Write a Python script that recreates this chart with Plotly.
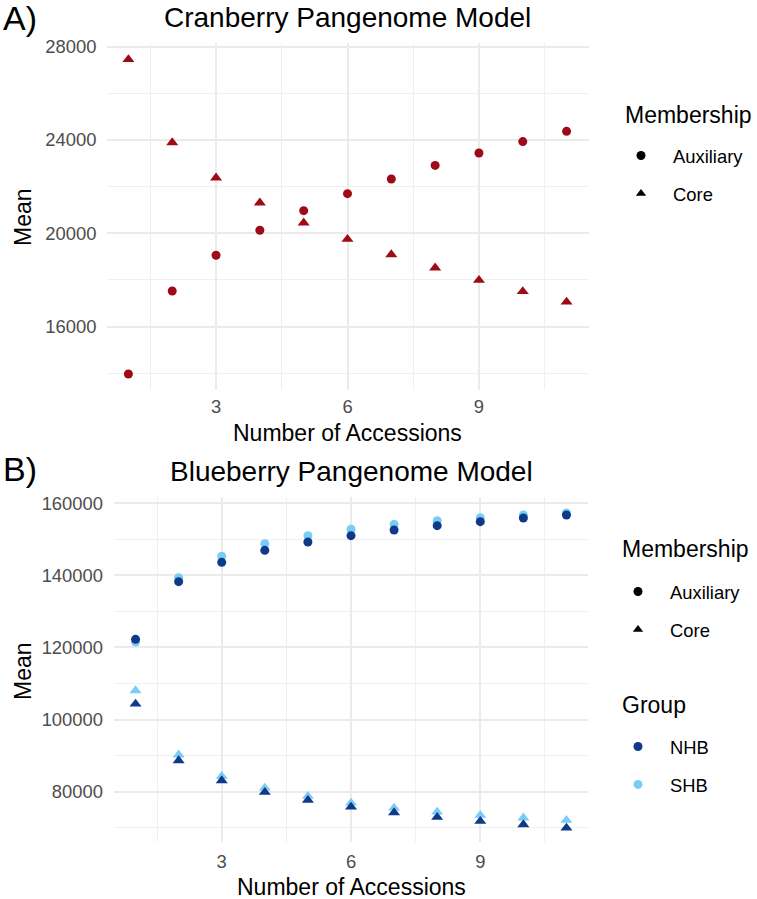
import plotly.graph_objects as go

# ---------------- data ----------------
accessions = [1, 2, 3, 4, 5, 6, 7, 8, 9, 10, 11]

cran_auxiliary = [13970, 17530, 19060, 20130, 20970, 21700, 22330, 22910, 23440, 23930, 24370]
cran_core = [27450, 23890, 22380, 21310, 20450, 19750, 19090, 18520, 17990, 17510, 17060]

blue_aux_nhb = [122270, 138270, 143630, 146960, 149270, 151030, 152600, 153800, 154910, 155930, 156760]
blue_aux_shb = [121530, 139380, 145300, 148810, 151030, 152790, 154170, 155190, 156020, 156760, 157320]
blue_core_nhb = [104350, 88630, 83090, 79850, 77630, 75780, 74210, 72910, 71800, 70880, 69950]
blue_core_shb = [108050, 90210, 84290, 81050, 78740, 76890, 75500, 74390, 73470, 72730, 72080]

x_ticks = [3, 6, 9]
cran_y_ticks = [16000, 20000, 24000, 28000]
blue_y_ticks = [80000, 100000, 120000, 140000, 160000]

RED = "#9E0B16"
NHB = "#0F3A8A"
SHB = "#79CDF5"
FONT = "Liberation Sans, Arial, sans-serif"
W, H = 757, 899

fig = go.Figure()


def px_x(p):
    return p / W


def px_y(p):
    return 1 - p / H


CIRC = 9
TRI = 10.5

# Panel A
fig.add_trace(go.Scatter(x=accessions, y=cran_auxiliary, mode="markers",
                         marker=dict(symbol="circle", size=CIRC, color=RED),
                         showlegend=False, xaxis="x", yaxis="y"))
fig.add_trace(go.Scatter(x=accessions, y=cran_core, mode="markers",
                         marker=dict(symbol="triangle-up", size=TRI, color=RED),
                         showlegend=False, xaxis="x", yaxis="y"))

# Panel B
fig.add_trace(go.Scatter(x=accessions, y=blue_aux_shb, mode="markers",
                         marker=dict(symbol="circle", size=CIRC, color=SHB),
                         showlegend=False, xaxis="x2", yaxis="y2"))
fig.add_trace(go.Scatter(x=accessions, y=blue_aux_nhb, mode="markers",
                         marker=dict(symbol="circle", size=CIRC, color=NHB),
                         showlegend=False, xaxis="x2", yaxis="y2"))
fig.add_trace(go.Scatter(x=accessions, y=blue_core_shb, mode="markers",
                         marker=dict(symbol="triangle-up", size=TRI, color=SHB),
                         showlegend=False, xaxis="x2", yaxis="y2"))
fig.add_trace(go.Scatter(x=accessions, y=blue_core_nhb, mode="markers",
                         marker=dict(symbol="triangle-up", size=TRI, color=NHB),
                         showlegend=False, xaxis="x2", yaxis="y2"))


# Legend entries
def leg(name, symbol, color, legend, group):
    fig.add_trace(go.Scatter(x=[None], y=[None], mode="markers", name=name,
                             marker=dict(symbol=symbol, size=9, color=color),
                             legend=legend, legendgroup=group, showlegend=True,
                             xaxis="x", yaxis="y"))


leg("Auxiliary", "circle", "black", "legend", "a1")
leg("Core", "triangle-up", "black", "legend", "a2")
leg("Auxiliary", "circle", "black", "legend2", "b1")
leg("Core", "triangle-up", "black", "legend2", "b2")
leg("NHB", "circle", NHB, "legend3", "c1")
leg("SHB", "circle", SHB, "legend3", "c2")

legend_common = dict(
    xanchor="left", yanchor="top", bgcolor="rgba(0,0,0,0)",
    font=dict(family=FONT, size=18.4, color="#000000"),
    itemwidth=54, tracegroupgap=11, traceorder="grouped",
)
fig.update_layout(
    legend=dict(x=px_x(609), y=px_y(137), **legend_common),
    legend2=dict(x=px_x(606), y=px_y(573), **legend_common),
    legend3=dict(x=px_x(606), y=px_y(728), **legend_common),
)

axis_common = dict(
    showline=False, zeroline=False, ticks="", showgrid=True,
    gridcolor="#EBEBEB", gridwidth=1.5,
    tickfont=dict(family=FONT, size=18.4, color="#4D4D4D"),
    automargin=False,
)
minor_x = dict(dtick=1.5, tick0=0, showgrid=True, gridcolor="#F0F0F0", gridwidth=1)

fig.update_layout(
    xaxis=dict(domain=[px_x(106.5), px_x(588.5)], range=[0.5, 11.5], tickvals=x_ticks,
               ticktext=[str(v) for v in x_ticks], minor=minor_x,
               anchor="y", ticklabelstandoff=3, **axis_common),
    yaxis=dict(domain=[px_y(390.3), px_y(42.5)], range=[13272, 28178], tickvals=cran_y_ticks,
               ticktext=[str(v) for v in cran_y_ticks],
               minor=dict(dtick=2000, tick0=0, showgrid=True, gridcolor="#F0F0F0", gridwidth=1),
               anchor="x", ticklabelstandoff=9, **axis_common),
    xaxis2=dict(domain=[px_x(114), px_x(588)], range=[0.5, 11.5], tickvals=x_ticks,
                ticktext=[str(v) for v in x_ticks], minor=minor_x,
                anchor="y2", ticklabelstandoff=6, **axis_common),
    yaxis2=dict(domain=[px_y(842.3), px_y(497.3)], range=[65953, 161669], tickvals=blue_y_ticks,
                ticktext=[str(v) for v in blue_y_ticks],
                minor=dict(dtick=10000, tick0=0, showgrid=True, gridcolor="#F0F0F0", gridwidth=1),
                anchor="x2", ticklabelstandoff=10, **axis_common),
)


def ann(text, x, y, size, xanchor="center", angle=0, color="#000000"):
    fig.add_annotation(text=text, x=px_x(x), y=px_y(y), xref="paper", yref="paper",
                       xanchor=xanchor, yanchor="middle", showarrow=False, textangle=angle,
                       font=dict(family=FONT, size=size, color=color))


ann("A)", 1, 18, 34, xanchor="left")
ann("B)", 1, 469, 34, xanchor="left")
ann("Cranberry Pangenome Model", 347.5, 17, 28)
ann("Blueberry Pangenome Model", 351, 471, 28)
ann("Number of Accessions", 347.5, 433, 23)
ann("Number of Accessions", 351, 887, 23)
ann("Mean", 23, 217, 23, angle=-90)
ann("Mean", 23, 671, 23, angle=-90)
ann("Membership", 623, 115, 23, xanchor="left")
ann("Membership", 620, 549, 23, xanchor="left")
ann("Group", 620, 705, 23, xanchor="left")

fig.update_layout(
    width=W, height=H,
    margin=dict(l=0, r=0, t=0, b=0),
    paper_bgcolor="white", plot_bgcolor="white",
    font=dict(family=FONT),
)

fig.write_html("out.html", config={"displayModeBar": False},
               post_script="document.body.style.margin='0px';document.body.style.overflow='hidden';")
